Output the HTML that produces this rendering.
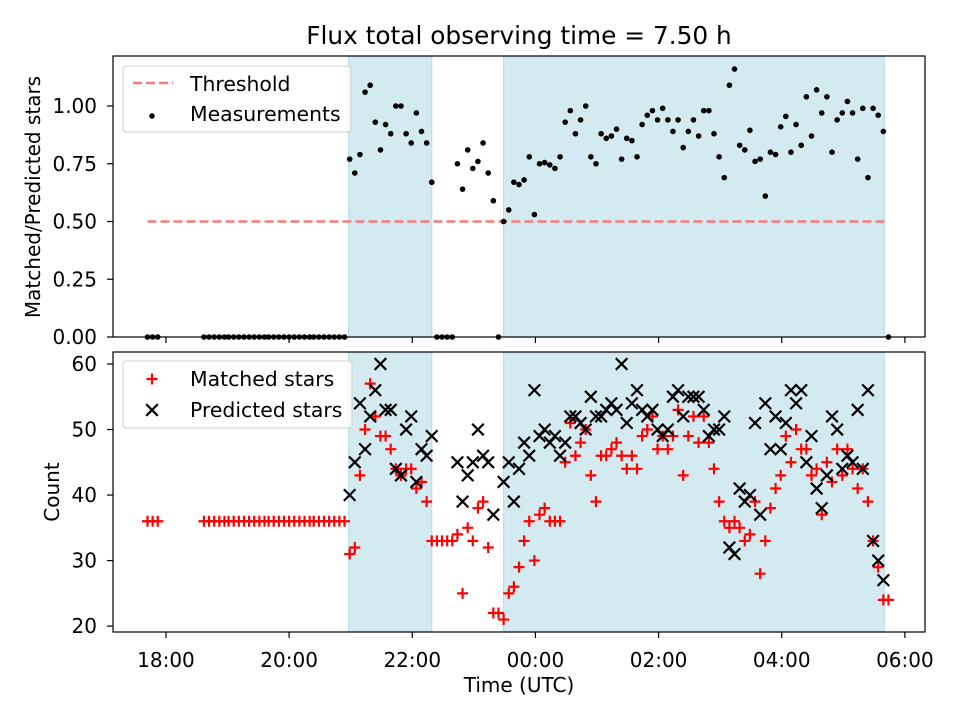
<!DOCTYPE html>
<html><head><meta charset="utf-8"><style>
body{margin:0;background:#fff;}
svg{display:block;font-family:"DejaVu Sans","Liberation Sans",sans-serif;}
</style></head><body>
<svg id="chart" width="960" height="720" viewBox="0 0 960 720" xmlns="http://www.w3.org/2000/svg"></svg>
<script>
// minutes relative to 18:00
const times = [-18,-13,-8,37,42,47,52,57,61,66,71,76,81,86,91,96,100,105,110,115,120,125,130,135,140,144,149,154,159,164,169,174,
179,184,189,194,199,204,209,214,219,224,229,234,239,244,249,254,259,264,269,274,279,284,289,294,299,304,309,314,319,324,329,334,339,344,349,354,359,364,369,374,379,384,389,394,399,404,409,414,419,424,429,434,439,444,449,454,459,464,469,474,479,484,489,494,499,504,509,514,519,524,529,534,539,544,549,554,559,564,569,574,579,584,589,594,599,604,609,614,619,624,629,634,639,644,649,654,659,664,669,674,679,684,689,694,699,704];
const ratio = [0,0,0,0,0,0,0,0,0,0,0,0,0,0,0,0,0,0,0,0,0,0,0,0,0,0,0,0,0,0,0,0,
0.77,0.71,0.79,1.06,1.09,0.93,0.81,0.92,0.88,1.0,1.0,0.88,0.84,0.97,0.89,0.84,0.67,0,0,0,0,0.75,0.64,0.81,0.73,0.76,0.84,0.71,0.59,0,0.50,0.55,0.67,0.66,0.68,0.78,0.53,0.75,0.755,0.745,0.73,0.78,0.93,0.98,0.88,0.94,1.0,0.78,0.75,0.88,0.86,0.87,0.90,0.77,0.86,0.85,0.78,0.92,0.96,0.98,0.94,0.99,0.94,0.89,0.94,0.82,0.89,0.94,0.87,0.98,0.98,0.88,0.78,0.69,1.09,1.16,0.83,0.81,0.895,0.76,0.77,0.61,0.80,0.79,0.91,0.955,0.80,0.92,0.83,1.04,0.87,1.07,0.97,1.04,0.80,0.94,0.97,1.02,0.97,0.77,0.99,0.69,0.99,0.96,0.89,0];
const matched = [36,36,36,36,36,36,36,36,36,36,36,36,36,36,36,36,36,36,36,36,36,36,36,36,36,36,36,36,36,36,36,36,
31,32,43,50,57,52,49,49,47,44,43,44,44,41,42,39,33,33,33,33,33,34,25,35,33,38,39,32,22,22,21,25,26,29,33,36,30,37,38,36,36,36,45,51,46,48,50,43,39,46,46,47,48,46,44,46,44,49,50,52,47,49,47,49,53,43,49,52,48,52,48,44,39,36,35,36,35,33,34,39,28,33,38,41,43,49,45,50,47,47,43,44,37,45,42,47,43,47,44,41,44,39,33,29,24,24];
const predicted = [null,null,null,null,null,null,null,null,null,null,null,null,null,null,null,null,null,null,null,null,null,null,null,null,null,null,null,null,null,null,null,null,
40,45,54,47,52,56,60,53,53,44,43,50,52,42,47,46,49,null,null,null,null,45,39,43,45,50,46,45,37,null,42,45,39,44,48,46,56,49,50,48,49,46,48,52,52,51,50,55,52,52,53,54,53,60,51,54,56,53,52,53,50,49,50,55,56,52,55,55,55,53,49,50,50,52,32,31,41,39,40,51,37,54,47,52,47,51,56,54,56,45,49,41,38,43,52,50,44,46,45,53,44,56,33,30,27,null];
const xTickMins = [0,120,240,360,480,600,720];
const xTickLabels = ["18:00","20:00","22:00","00:00","02:00","04:00","06:00"];
const topTicks = [0,0.25,0.5,0.75,1.0];
const botTicks = [20,30,40,50,60];
const spans = [[178,259],[329,700]];
const threshold = 0.5;

const NS="http://www.w3.org/2000/svg";
const svg=document.getElementById('chart');
const L=113,R=925, T1=56,B1=337, T2=352,B2=632;
const xMin=-51.6,xMax=739.6;
const FS=20;
const X=m=>L+(m-xMin)/(xMax-xMin)*(R-L);
const Y1=v=>B1-(v-0)/(1.2165-0)*(B1-T1);
const Y2=v=>B2-(v-19.1)/(61.83-19.1)*(B2-T2);
function el(tag,attrs,parent){const e=document.createElementNS(NS,tag);for(const k in attrs)e.setAttribute(k,attrs[k]);(parent||svg).appendChild(e);return e;}

function panel(top,bot,name){
  const g=el('g',{});
  
  
  spans.forEach((s,i)=>{
    const r=el('rect',{x:X(s[0]),y:top,width:X(s[1])-X(s[0]),height:bot-top,fill:'#d4eaf1',stroke:'#bcdde8','stroke-width':1.2},g);
    
    
  });
  return g;
}
const gTop=panel(T1,B1,'ratio-panel');
const tmin=Math.min(...times),tmax=Math.max(...times);
const th=el('line',{x1:X(tmin),x2:X(tmax),y1:Y1(threshold),y2:Y1(threshold),stroke:'#f47c7c','stroke-width':2.5,'stroke-dasharray':'9,4'},gTop);


times.forEach((t,i)=>{
  const c=el('circle',{cx:X(t),cy:Y1(ratio[i]),r:2.8,fill:'#000'},gTop);
  
  
});
const gBot=panel(T2,B2,'count-panel');
times.forEach((t,i)=>{
  const x=X(t),y=Y2(matched[i]),d=5.5;
  const p=el('path',{d:`M${x-d},${y}H${x+d}M${x},${y-d}V${y+d}`,stroke:'#ff0000','stroke-width':2.2,fill:'none'},gBot);
  
  
});
times.forEach((t,i)=>{
  if(predicted[i]===null)return;
  const x=X(t),y=Y2(predicted[i]),d=5.8;
  const p=el('path',{d:`M${x-d},${y-d}L${x+d},${y+d}M${x-d},${y+d}L${x+d},${y-d}`,stroke:'#000','stroke-width':2.2,fill:'none'},gBot);
  
  
});
[[T1,B1,'ratio-axes-frame'],[T2,B2,'count-axes-frame']].forEach(a=>{
  const r=el('rect',{x:L,y:a[0],width:R-L,height:a[1]-a[0],fill:'none',stroke:'#000','stroke-width':1.2});
  
  
});
xTickMins.forEach((m,i)=>{
  const x=X(m);
  el('line',{x1:x,x2:x,y1:B1,y2:B1+6,stroke:'#000','stroke-width':1.2});
  el('line',{x1:x,x2:x,y1:B2,y2:B2+6,stroke:'#000','stroke-width':1.2});
  const t=el('text',{x:x,y:B2+35,'font-size':FS,'text-anchor':'middle'});
  t.textContent=xTickLabels[i];
  
  
});
topTicks.forEach(v=>{
  const y=Y1(v);
  el('line',{x1:L-6,x2:L,y1:y,y2:y,stroke:'#000','stroke-width':1.2});
  const t=el('text',{x:L-16,y:y+7,'font-size':FS,'text-anchor':'end'});
  t.textContent=v.toFixed(2);
  
  
});
botTicks.forEach(v=>{
  const y=Y2(v);
  el('line',{x1:L-6,x2:L,y1:y,y2:y,stroke:'#000','stroke-width':1.2});
  const t=el('text',{x:L-16,y:y+7,'font-size':FS,'text-anchor':'end'});
  t.textContent=v;
  
  
});
</script>
<script>
(function(){
const svg=document.getElementById('chart');
svg.insertAdjacentHTML('beforeend',`
<text x="519" y="44" font-size="24.8" text-anchor="middle">Flux total observing time = 7.50 h</text>
<text transform="translate(40,197) rotate(-90)" font-size="20" text-anchor="middle">Matched/Predicted stars</text>
<text transform="translate(59,492) rotate(-90)" font-size="20" text-anchor="middle">Count</text>
<text x="519" y="692" font-size="20" text-anchor="middle">Time (UTC)</text>
<g>
<rect x="123" y="66" width="228" height="66" rx="3" fill="#fff" fill-opacity="0.8" stroke="#ccc"/>
<line x1="133" x2="173" y1="83" y2="83" stroke="#f47c7c" stroke-width="2.5" stroke-dasharray="9,4"/>
<text x="190" y="91" font-size="20.4">Threshold</text>
<circle cx="152" cy="116" r="2.8" fill="#000"/>
<text x="190" y="121" font-size="20.4">Measurements</text>
</g>
<g>
<rect x="123" y="361" width="229" height="67" rx="3" fill="#fff" fill-opacity="0.8" stroke="#ccc"/>
<path d="M146.5,379H157.5M152,373.5V384.5" stroke="#f00" stroke-width="2.2"/>
<text x="190" y="386" font-size="20.4">Matched stars</text>
<path d="M146.2,404.2L157.8,415.8M146.2,415.8L157.8,404.2" stroke="#000" stroke-width="2.2"/>
<text x="190" y="417" font-size="20.4">Predicted stars</text>
</g>`);
})();
</script>
</body></html>
